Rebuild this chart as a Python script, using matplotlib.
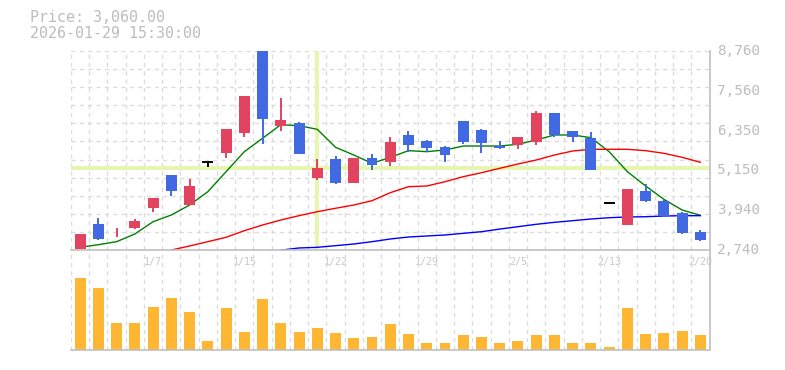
import matplotlib
matplotlib.use("Agg")
import matplotlib.pyplot as plt
import numpy as np

# ---------------- data ----------------
opens  = [2780, 3533, 3290, 3422, 4025, 5010, 4115, 5395, 5684, 6290,
          8750, 6500, 6570, 4930, 5490, 4780, 5525, 5410, 6218, 6036,
          5855, 6640, 6368, 5885, 5915, 6015, 6881, 6338, 6127, 4157,
          3512, 4528, 4227, 3865, 3290]
closes = [3230, 3081, 3305, 3624, 4317, 4540, 4680, 5395, 6398, 7395,
          6710, 6670, 5655, 5230, 4780, 5525, 5320, 6005, 5925, 5834,
          5623, 6006, 5985, 5825, 6157, 6881, 6208, 6157, 5171, 4157,
          4589, 4236, 3784, 3271, 3060]
highs  = [3235, 3705, 3405, 3670, 4320, 5010, 4900, 5395, 6400, 7395,
          8760, 7325, 6620, 5495, 5585, 5525, 5645, 6155, 6347, 6066,
          5885, 6640, 6407, 6036, 6157, 6941, 6881, 6338, 6317, 4157,
          4589, 4740, 4257, 3895, 3350]
lows   = [2765, 3050, 3130, 3380, 3895, 4390, 4110, 5260, 5530, 6165,
          5940, 6350, 5655, 4870, 4750, 4780, 5170, 5290, 5714, 5714,
          5412, 5946, 5684, 5795, 5786, 5915, 6157, 6015, 5171, 4157,
          3512, 4206, 3753, 3241, 3020]
volumes = [214, 184, 81, 81, 129, 156, 114, 27, 126, 54,
           153, 81, 54, 66, 51, 36, 39, 78, 48, 21,
           21, 45, 39, 21, 27, 45, 45, 21, 21, 9,
           126, 48, 51, 57, 45]
ma_short = [2830, 2909, 3000, 3232, 3603, 3805, 4106, 4507, 5111, 5714,
            6118, 6528, 6498, 6389, 5847, 5614, 5364, 5545, 5745, 5715,
            5765, 5885, 5885, 5885, 5937, 6066, 6218, 6218, 6137, 5714,
            5111, 4679, 4278, 3955, 3796]
ma_mid_start = 5
ma_mid = [2749, 2870, 3000, 3132, 3331, 3503, 3654, 3784, 3904, 4007,
          4106, 4236, 4477, 4658, 4679, 4809, 4960, 5080, 5213, 5343,
          5463, 5614, 5735, 5786, 5786, 5786, 5745, 5665, 5545, 5394]
ma_long_start = 11
ma_long = [2745, 2810, 2830, 2880, 2930, 3000, 3081, 3141, 3171, 3202,
           3252, 3301, 3380, 3452, 3524, 3584, 3633, 3684, 3723, 3744,
           3753, 3774, 3784, 3784]
x_tick_idx = [4, 9, 14, 19, 24, 29, 34]
x_tick_labels = ["1/7", "1/15", "1/22", "1/29", "2/5", "2/13", "2/20"]
y_tick_labels = ["8,760", "7,560", "6,350", "5,150", "3,940", "2,740"]
y_min, y_max = 2740, 8760
cross_idx = 13
cross_price = 5222
info_lines = ["Price: 3,060.00", "2026-01-29 15:30:00"]

# ---------------- style ----------------
UP = "#e2435f"
DOWN = "#4169e1"
FLAT = "#000000"
VOL = "#ffb733"
GRID = "#dcdcdc"
AX = "#c0c0c0"
TXT = "#bdbdbd"
MONO = "DejaVu Sans Mono"

W, H = 785, 370
fig = plt.figure(figsize=(W / 100, H / 100), dpi=100)

def frac(x0, y0, x1, y1):
    return [x0 / W, 1 - y1 / H, (x1 - x0) / W, (y1 - y0) / H]

n = len(opens)
xs = np.arange(n)
ax = fig.add_axes(frac(71, 50.7, 709.5, 250.3))
axv = fig.add_axes(frac(71, 252, 709.5, 349.5))

for a in (ax, axv):
    a.set_xlim(-0.5, n - 0.5)
    for s in ("left", "top"):
        a.spines[s].set_visible(False)
    for s in ("right", "bottom"):
        a.spines[s].set_color(AX)
        a.spines[s].set_linewidth(1.2)
    a.tick_params(left=False, bottom=False, right=False, top=False,
                  labelleft=False, labelbottom=False)
    for k in range(n + 1):
        a.axvline(k - 0.5, color=GRID, lw=1, ls=(0, (3, 3)), zorder=0)
    a.set_facecolor("none")

ax.set_ylim(y_min, y_max)
cell = (y_max - y_min) / 11
for k in range(12):
    ax.axhline(y_min + k * cell, color=GRID, lw=1, ls=(0, (3, 3)), zorder=0)

# crosshair
ax.axvline(cross_idx, color="#e6f5b0", lw=3, zorder=1)
ax.axhline(cross_price, color="#e6f5b0", lw=3, zorder=1)

# moving averages
ax.plot(xs, ma_short, color="#008000", lw=1, zorder=2)
ax.plot(xs[ma_mid_start:ma_mid_start + len(ma_mid)], ma_mid, color="#ff0000", lw=1, zorder=2)
ax.plot(xs[ma_long_start:ma_long_start + len(ma_long)], ma_long, color="#0000ff", lw=1, zorder=2)

# candles
bw = 0.6
for i in range(n):
    o, c, h, l = opens[i], closes[i], highs[i], lows[i]
    col = UP if c > o else (DOWN if c < o else FLAT)
    ax.vlines(i, l, h, color=col, lw=1.4, zorder=3)
    if c == o:
        ax.hlines(o, i - bw / 2, i + bw / 2, color=col, lw=1.4, zorder=3)
    else:
        ax.bar(i, abs(c - o), bottom=min(o, c), width=bw, color=col, zorder=4)

# y labels on right
for k, lab in enumerate(y_tick_labels):
    yv = y_max - k * (y_max - y_min) / 5
    ax.text(1.012, (yv - y_min) / (y_max - y_min), lab, transform=ax.transAxes,
            ha="left", va="center", color=TXT, fontsize=10.4, family=MONO)

# x labels
for i, lab in zip(x_tick_idx, x_tick_labels):
    ax.text(i, y_min - 0.058 * (y_max - y_min), lab, ha="center", va="center",
            color="#c8c8c8", fontsize=7.2, family=MONO, clip_on=False)

# volume
axv.bar(xs, volumes, width=bw, color=VOL, zorder=2)
axv.set_ylim(0, 214 * 97.5 / 71.3)

# info text
fig.text(30 / W, 1 - 18 / H, info_lines[0], color=TXT, fontsize=10.8, family=MONO,
         ha="left", va="center")
fig.text(30 / W, 1 - 33 / H, info_lines[1], color=TXT, fontsize=10.8, family=MONO,
         ha="left", va="center")

fig.savefig("out.png", dpi=100, facecolor="white")
